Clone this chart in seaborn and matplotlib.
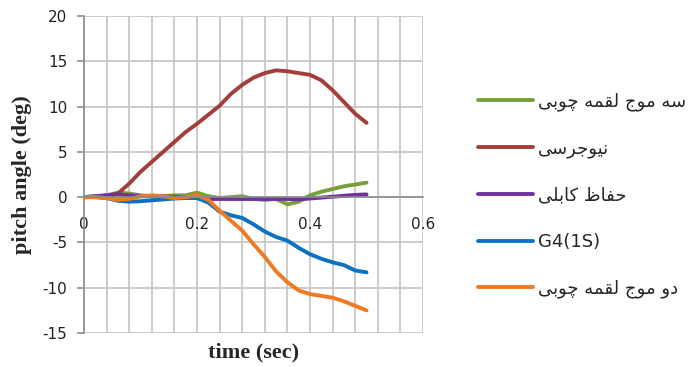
import numpy as np
import pandas as pd
import matplotlib
matplotlib.use("Agg")
import matplotlib.pyplot as plt
import seaborn as sns
from matplotlib.ticker import MultipleLocator

# ==============================
# DATA
# ==============================

time_sec = [0.00, 0.02, 0.04, 0.06, 0.08, 0.10, 0.12, 0.14, 0.16, 0.18, 0.20, 0.22, 0.24,
            0.26, 0.28, 0.30, 0.32, 0.34, 0.36, 0.38, 0.40, 0.42, 0.44, 0.46, 0.48, 0.50]

three_wave = [0.0, 0.1, 0.2, 0.5, 0.4, 0.2, 0.1, 0.1, 0.2, 0.2, 0.5, 0.1, -0.1,
              0.0, 0.1, -0.2, -0.3, -0.2, -0.8, -0.5, 0.2, 0.6, 0.9, 1.2, 1.4, 1.6]
new_jersey = [0.0, 0.05, 0.1, 0.4, 1.5, 2.8, 3.9, 5.0, 6.1, 7.2, 8.1, 9.1, 10.1,
              11.4, 12.4, 13.2, 13.7, 14.0, 13.9, 13.7, 13.5, 12.9, 11.8, 10.5, 9.2, 8.2]
cable_barrier = [0.0, 0.1, 0.2, 0.3, 0.2, 0.1, 0.1, 0.1, 0.0, 0.0, 0.0, -0.2, -0.2,
                 -0.2, -0.2, -0.2, -0.2, -0.2, -0.2, -0.25, -0.15, -0.05, 0.05, 0.15, 0.25, 0.3]
g4_1s = [0.0, 0.0, -0.1, -0.4, -0.5, -0.45, -0.35, -0.25, -0.15, -0.1, -0.1, -0.6, -1.6,
         -2.0, -2.3, -3.0, -3.8, -4.4, -4.8, -5.6, -6.3, -6.8, -7.2, -7.5, -8.1, -8.3]
two_wave = [0.0, 0.0, -0.1, -0.3, -0.2, 0.1, 0.2, 0.1, -0.1, 0.0, 0.2, -0.3, -1.5,
            -2.6, -3.7, -5.2, -6.6, -8.2, -9.4, -10.3, -10.7, -10.9, -11.1, -11.5, -12.0, -12.5]

series_names = ["سه موج لقمه چوبی", "نیوجرسی", "حفاظ کابلی", "G4(1S)", "دو موج لقمه چوبی"]
series_values = [three_wave, new_jersey, cable_barrier, g4_1s, two_wave]
series_colors = ["#77A03C", "#A33F3B", "#7030A0", "#0B72C2", "#EE7A22"]

# ==============================
# PERSIAN SHAPING (matplotlib has no Arabic shaping)
# ==============================

# isolated, final, initial, medial
FORMS = {
    "ا": ("\uFE8D", "\uFE8E", None, None),
    "ب": ("\uFE8F", "\uFE90", "\uFE91", "\uFE92"),
    "ج": ("\uFE9D", "\uFE9E", "\uFE9F", "\uFEA0"),
    "ح": ("\uFEA1", "\uFEA2", "\uFEA3", "\uFEA4"),
    "د": ("\uFEA9", "\uFEAA", None, None),
    "ر": ("\uFEAD", "\uFEAE", None, None),
    "س": ("\uFEB1", "\uFEB2", "\uFEB3", "\uFEB4"),
    "ظ": ("\uFEC5", "\uFEC6", "\uFEC7", "\uFEC8"),
    "ف": ("\uFED1", "\uFED2", "\uFED3", "\uFED4"),
    "ق": ("\uFED5", "\uFED6", "\uFED7", "\uFED8"),
    "ل": ("\uFEDD", "\uFEDE", "\uFEDF", "\uFEE0"),
    "م": ("\uFEE1", "\uFEE2", "\uFEE3", "\uFEE4"),
    "ن": ("\uFEE5", "\uFEE6", "\uFEE7", "\uFEE8"),
    "ه": ("\uFEE9", "\uFEEA", "\uFEEB", "\uFEEC"),
    "و": ("\uFEED", "\uFEEE", None, None),
    "ی": ("\uFBFC", "\uFBFD", "\uFBFE", "\uFBFF"),
    "چ": ("\uFB7A", "\uFB7B", "\uFB7C", "\uFB7D"),
    "ک": ("\uFB8E", "\uFB8F", "\uFB90", "\uFB91"),
}


def shape_fa(text):
    if not any(c in FORMS for c in text):
        return text
    out = []
    for i, c in enumerate(text):
        if c not in FORMS:
            out.append(c)
            continue
        prev = text[i - 1] if i > 0 else ""
        nxt = text[i + 1] if i + 1 < len(text) else ""
        join_prev = prev in FORMS and FORMS[prev][2] is not None
        join_next = FORMS[c][2] is not None and nxt in FORMS
        iso, fin, ini, med = FORMS[c]
        if join_prev and join_next:
            out.append(med)
        elif join_prev:
            out.append(fin)
        elif join_next:
            out.append(ini)
        else:
            out.append(iso)
    return "".join(out)[::-1]


labels = [shape_fa(n) for n in series_names]

df = pd.DataFrame({
    "time": np.tile(time_sec, len(labels)),
    "angle": np.concatenate(series_values),
    "series": np.repeat(labels, len(time_sec)),
})

# ==============================
# PLOT
# ==============================

sns.set_style("white")
plt.rcParams["font.family"] = ["DejaVu Sans"]
plt.rcParams["axes.unicode_minus"] = False

fig = plt.figure(figsize=(6.95, 3.67), dpi=100)
ax = fig.add_axes([0.1209, 0.0926, 0.4878, 0.8638])

sns.lineplot(
    data=df, x="time", y="angle", hue="series",
    hue_order=labels, palette=series_colors,
    linewidth=2.8, ax=ax, sort=False,
    solid_joinstyle="round", solid_capstyle="round",
)

ax.set_xlim(0, 0.6)
ax.set_ylim(-15, 20)
ax.xaxis.set_major_locator(MultipleLocator(0.2))
ax.xaxis.set_minor_locator(MultipleLocator(0.04))
ax.yaxis.set_major_locator(MultipleLocator(5))
ax.set_xticks([0, 0.2, 0.4, 0.6])
ax.set_xticklabels(["0", "0.2", "0.4", "0.6"])

ax.grid(True, which="both", axis="x", color="#C4C4C4", linewidth=1.2)
ax.grid(True, which="major", axis="y", color="#C4C4C4", linewidth=1.2)
ax.set_axisbelow(True)

for s in ["top", "right"]:
    ax.spines[s].set_visible(False)
ax.spines["bottom"].set_position(("data", 0))
ax.spines["bottom"].set_color("#8C8C8C")
ax.spines["left"].set_color("#8C8C8C")
ax.spines["bottom"].set_linewidth(1.2)
ax.spines["left"].set_linewidth(1.2)

ax.tick_params(axis="y", which="major", length=5, width=1.2, color="#8C8C8C",
               pad=7, labelsize=11, labelcolor="#222222", left=True)
ax.tick_params(axis="x", which="both", length=0, pad=14, labelsize=11,
               labelcolor="#222222")

ax.set_xlabel("time (sec)", fontsize=16, fontweight="bold",
              family="Liberation Serif", va="center")
ax.set_ylabel("pitch angle (deg)", fontsize=16, fontweight="bold",
              family="Liberation Serif", va="center")
ax.xaxis.set_label_coords(0.5, -0.06)
ax.yaxis.set_label_coords(-0.183, 0.5)

handles, labs = ax.get_legend_handles_labels()
leg = ax.legend(
    handles, labs, loc="upper left",
    bbox_to_anchor=(0.688, 0.749), bbox_transform=fig.transFigure,
    frameon=False, fontsize=13, borderpad=0, borderaxespad=0,
    handlelength=3.05, handletextpad=0.28, labelspacing=1.58,
)
for line in leg.get_lines():
    line.set_solid_capstyle("round")

fig.savefig("out.png", dpi=100)
